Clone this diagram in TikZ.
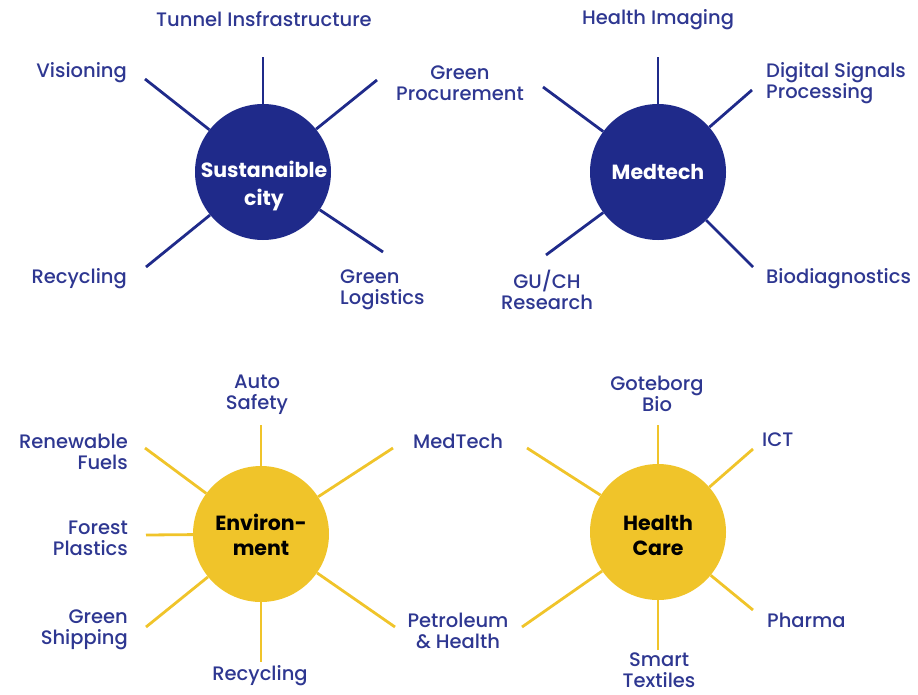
\documentclass[tikz,border=0pt]{standalone}
\usepackage{fontspec}
\setmainfont{Poppins}[UprightFont={* Medium},BoldFont={* Bold}]
\begin{document}
\definecolor{navy}{HTML}{1F2A8A}
\definecolor{labelblue}{HTML}{2E3791}
\definecolor{sun}{HTML}{F0C42A}
\begin{tikzpicture}[x=1pt,y=-1pt,
  hub/.style={circle,minimum size=136pt,inner sep=0pt},
  bluehub/.style={hub,fill=navy},
  sunhub/.style={hub,fill=sun},
  hubtext/.style={font=\bfseries\fontsize{20.5}{25}\selectfont,align=center,inner sep=0pt},
  lbl/.style={font=\fontsize{19.5}{21}\selectfont,text=labelblue,inner sep=0pt},
  spoke/.style={line width=2.8pt},
  bluespoke/.style={spoke,draw=navy},
  sunspoke/.style={spoke,draw=sun}]
\useasboundingbox (0,0) rectangle (918,694);

% ---- Sustainable city ----
\node[bluehub] (c1) at (263,172) {};
\node[hubtext,text=white,font=\bfseries\fontsize{20.5}{28}\selectfont] (t1) at (264,186) {Sustanaible\\city};
\coordinate (c1n) at (263,57);
\coordinate (c1ul) at (145,79);
\coordinate (c1ur) at (377,80);
\coordinate (c1ll) at (146,267);
\coordinate (c1lr) at (383,252);
\foreach \e in {c1n,c1ul,c1ur,c1ll,c1lr} \draw[bluespoke] (c1) -- (\e);
\node[lbl] (l1a) at (264,19) {Tunnel Insfrastructure};
\node[lbl,anchor=east] (l1b) at (127,73) {Visioning};
\node[lbl,align=center] (l1c) at (460,83) {Green\\Procurement};
\node[lbl,anchor=east] (l1d) at (127,279) {Recycling};
\node[lbl,align=left,anchor=west] (l1e) at (340,290) {Green\\Logistics};

% ---- Medtech ----
\node[bluehub] (c2) at (658,172) {};
\node[hubtext,text=white] (t2) at (658,172) {Medtech};
\coordinate (c2n) at (658,57);
\coordinate (c2ul) at (543,87);
\coordinate (c2ur) at (752,90);
\coordinate (c2ll) at (546,255);
\coordinate (c2lr) at (753,267);
\foreach \e in {c2n,c2ul,c2ur,c2ll,c2lr} \draw[bluespoke] (c2) -- (\e);
\node[lbl] (l2a) at (658,20) {Health Imaging};
\node[lbl,align=left,anchor=west] (l2b) at (766,83) {Digital Signals\\Processing};
\node[lbl,align=center] (l2c) at (547,290) {GU/CH\\Research};
\node[lbl,anchor=west] (l2d) at (766,279) {Biodiagnostics};

% ---- Environment ----
\node[sunhub] (c3) at (261,534) {};
\node[hubtext,text=black] (t3) at (261,535) {Environ-\\ment};
\coordinate (c3n) at (261,425);
\coordinate (c3ul) at (145,448);
\coordinate (c3w) at (146,535);
\coordinate (c3ll) at (146,627);
\coordinate (c3s) at (261,662);
\coordinate (c3ur) at (393,448);
\coordinate (c3lr) at (395,627);
\foreach \e in {c3n,c3ul,c3w,c3ll,c3s,c3ur,c3lr} \draw[sunspoke] (c3) -- (\e);
\node[lbl,align=center] (l3a) at (257,395) {Auto\\Safety};
\node[lbl,align=right,anchor=east] (l3b) at (128,452) {Renewable\\Fuels};
\node[lbl,align=right,anchor=east] (l3c) at (128,538) {Forest\\Plastics};
\node[lbl,align=right,anchor=east] (l3d) at (128,630) {Green\\Shipping};
\node[lbl] (l3e) at (260,676) {Recycling};
\node[lbl,anchor=west] (l3f) at (413,441) {MedTech};
\node[lbl,align=center] (l3g) at (458,631) {Petroleum\\\& Health};

% ---- Health Care ----
\node[sunhub] (c4) at (658,532) {};
\node[hubtext,text=black] (t4) at (658,535) {Health\\Care};
\coordinate (c4n) at (658,425);
\coordinate (c4ul) at (527,448);
\coordinate (c4ur) at (753,449);
\coordinate (c4ll) at (522,627);
\coordinate (c4lr) at (753,610);
\coordinate (c4s) at (658,650);
\foreach \e in {c4n,c4ul,c4ur,c4ll,c4lr,c4s} \draw[sunspoke] (c4) -- (\e);
\node[lbl,align=center] (l4a) at (657,394) {Goteborg\\Bio};
\node[lbl,anchor=west] (l4b) at (762,440) {ICT};
\node[lbl,anchor=west] (l4c) at (767,620) {Pharma};
\node[lbl,align=center] (l4d) at (659,670) {Smart\\Textiles};
\end{tikzpicture}
\end{document}
